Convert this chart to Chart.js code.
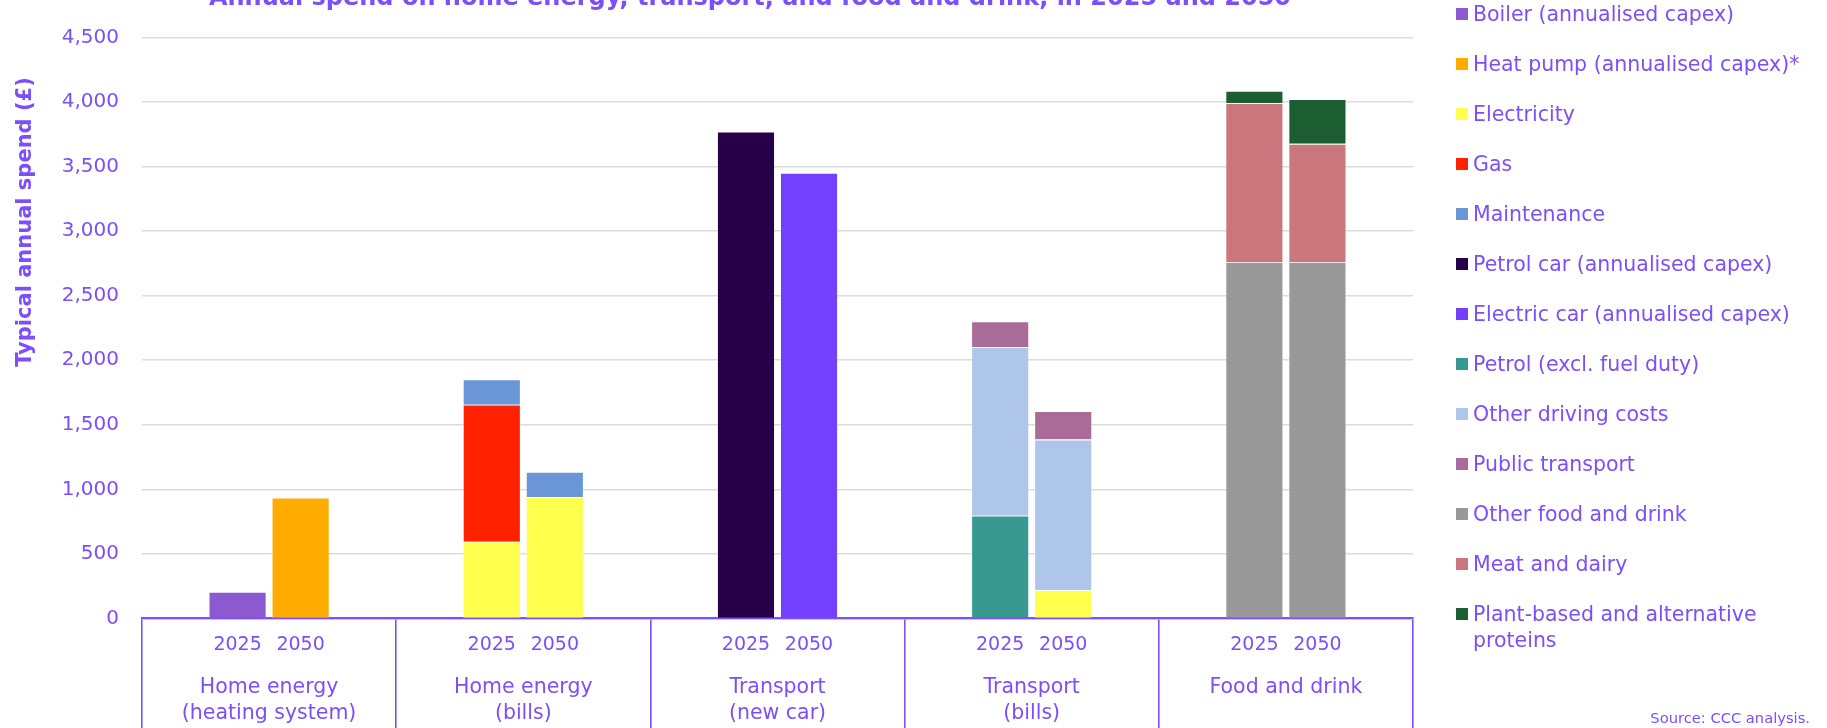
<!DOCTYPE html>
<html>
<head>
<meta charset="utf-8">
<title>Annual spend on home energy, transport, and food and drink</title>
<script src="https://cdn.jsdelivr.net/npm/chart.js@4.4.1/dist/chart.umd.min.js"></script>
<style>
  html, body { margin: 0; padding: 0; background: #ffffff; overflow: hidden; }
  #wrap { position: relative; width: 1827px; height: 728px; }
  #legend {
    position: absolute; left: 1456px; top: 1px; width: 360px;
    margin: 0; padding: 0; list-style: none;
    font-family: "DejaVu Sans", sans-serif; font-size: 20.5px; color: #7b4fff;
  }
  #legend li { display: flex; align-items: flex-start; line-height: 26px; margin-bottom: 24px; }
  #legend .sw { flex: 0 0 12px; height: 12px; margin: 7px 5px 0 0; }
  #source {
    position: absolute; right: 17px; top: 709px; line-height: 18px;
    font-family: "DejaVu Sans", sans-serif; font-size: 14.7px; color: #7b4fff;
  }
</style>
</head>
<body>
<div id="wrap">
  <canvas id="chart"></canvas>
  <ul id="legend"></ul>
  <div id="source">Source: CCC analysis.</div>
</div>
<script>
// Category groups (two bars each: 2025 and 2050)
const categoryLines = [
  ['Home energy', '(heating system)'],
  ['Home energy', '(bills)'],
  ['Transport', '(new car)'],
  ['Transport', '(bills)'],
  ['Food and drink']
];
const years = ['2025', '2050'];
const chartTitle = 'Annual spend on home energy, transport, and food and drink, in 2025 and 2050';
const yAxisTitle = 'Typical annual spend (£)';

// Values in £ per year, ordered [group][year]:
// heating 2025, heating 2050, bills 2025, bills 2050, new car 2025, new car 2050,
// transport bills 2025, transport bills 2050, food 2025, food 2050
const boiler          = [205, null, null, null, null, null, null, null, null, null];
const heatPump        = [null, 935, null, null, null, null, null, null, null, null];
const electricity     = [null, null, 595, 940, null, null, null, 220, null, null];
const gas             = [null, null, 1060, null, null, null, null, null, null, null];
const maintenance     = [null, null, 195, 195, null, null, null, null, null, null];
const petrolCar       = [null, null, null, null, 3770, null, null, null, null, null];
const electricCar     = [null, null, null, null, null, 3450, null, null, null, null];
const petrol          = [null, null, null, null, null, null, 795, null, null, null];
const otherDriving    = [null, null, null, null, null, null, 1305, 1165, null, null];
const publicTransport = [null, null, null, null, null, null, 200, 220, null, null];
const otherFood       = [null, null, null, null, null, null, null, null, 2760, 2760];
const meatDairy       = [null, null, null, null, null, null, null, null, 1230, 915];
const plantProteins   = [null, null, null, null, null, null, null, null, 95, 345];

const seriesNames = [
  'Boiler (annualised capex)', 'Heat pump (annualised capex)*', 'Electricity', 'Gas',
  'Maintenance', 'Petrol car (annualised capex)', 'Electric car (annualised capex)',
  'Petrol (excl. fuel duty)', 'Other driving costs', 'Public transport',
  'Other food and drink', 'Meat and dairy', 'Plant-based and alternative proteins'
];
const seriesValues = [
  boiler, heatPump, electricity, gas, maintenance, petrolCar, electricCar,
  petrol, otherDriving, publicTransport, otherFood, meatDairy, plantProteins
];
const seriesColors = [
  '#8c5ad0', '#ffab00', '#ffff4d', '#ff2200', '#6a96d8', '#27004a', '#7340ff',
  '#37998f', '#adc6ea', '#a96b98', '#999999', '#c9767c', '#1c5e32'
];

const yTicks = { min: 0, max: 4500, step: 500 };

const PURPLE = '#7b4fff';
const FONT = '"DejaVu Sans", sans-serif';

// One stacked dataset per series and year; stacks keep the two years side by side
const datasets = [];
seriesValues.forEach((vals, s) => {
  years.forEach((yr, y) => {
    datasets.push({
      label: seriesNames[s],
      data: categoryLines.map((_, c) => vals[c * 2 + y]),
      backgroundColor: seriesColors[s],
      borderColor: 'rgba(255,255,255,0.45)',
      borderWidth: 0.8,
      stack: yr
    });
  });
});

// Text drawn around the plot: title, rotated y title, years and group names
const axisText = {
  id: 'axisText',
  afterDraw(chart) {
    const { ctx, chartArea, scales: { x } } = chart;
    ctx.save();
    ctx.fillStyle = PURPLE;

    ctx.textAlign = 'center';
    ctx.textBaseline = 'alphabetic';
    ctx.font = 'bold 24px ' + FONT;
    ctx.fillText(chartTitle, 750, 5);

    ctx.save();
    ctx.translate(31, 222);
    ctx.rotate(-Math.PI / 2);
    ctx.font = 'bold 21px ' + FONT;
    ctx.fillText(yAxisTitle, 0, 0);
    ctx.restore();

    ctx.textBaseline = 'middle';
    categoryLines.forEach((lines, c) => {
      ctx.font = '19px ' + FONT;
      years.forEach(yr => {
        const ds = chart.data.datasets.findIndex(d => d.stack === yr && d.data[c] != null);
        const bar = chart.getDatasetMeta(ds).data[c];
        ctx.fillText(yr, bar.x, chartArea.bottom + 27);
      });
      ctx.font = '20.5px ' + FONT;
      lines.forEach((t, k) => {
        ctx.fillText(t, x.getPixelForValue(c), chartArea.bottom + 69 + k * 26.5);
      });
    });
    ctx.restore();
  }
};

const chart = new Chart(document.getElementById('chart'), {
  type: 'bar',
  data: { labels: categoryLines, datasets },
  options: {
    responsive: true,
    maintainAspectRatio: false,
    animation: false,
    categoryPercentage: 0.496,
    barPercentage: 0.916,
    layout: { padding: { top: 37.3, right: 414, left: 0, bottom: 0 } },
    plugins: {
      legend: { display: false },
      title: { display: false },
      tooltip: { enabled: false }
    },
    scales: {
      x: {
        stacked: true,
        ticks: { display: false },
        grid: {
          offset: true,
          drawOnChartArea: false,
          drawTicks: true,
          tickLength: 110,
          color: PURPLE,
          tickColor: PURPLE,
          tickWidth: 1.6,
          lineWidth: 1.6
        },
        border: { display: true, color: PURPLE, width: 2.2 },
        afterFit(scale) { scale.height = 109.5; }
      },
      y: {
        stacked: true,
        min: yTicks.min,
        max: yTicks.max,
        ticks: {
          stepSize: yTicks.step,
          padding: 23,
          color: PURPLE,
          font: { family: 'DejaVu Sans', size: 20 },
          callback: v => v.toLocaleString('en-US')
        },
        grid: { color: '#dcdcdc', lineWidth: 1.6, drawTicks: false },
        border: { display: false },
        afterFit(scale) { scale.width = 142; }
      }
    }
  },
  plugins: [axisText]
});

// Legend list built from the series
const legend = document.getElementById('legend');
seriesNames.forEach((name, s) => {
  const li = document.createElement('li');
  const sw = document.createElement('span');
  sw.className = 'sw';
  sw.style.background = seriesColors[s];
  const tx = document.createElement('span');
  tx.textContent = name;
  li.appendChild(sw);
  li.appendChild(tx);
  legend.appendChild(li);
});
</script>
</body>
</html>
